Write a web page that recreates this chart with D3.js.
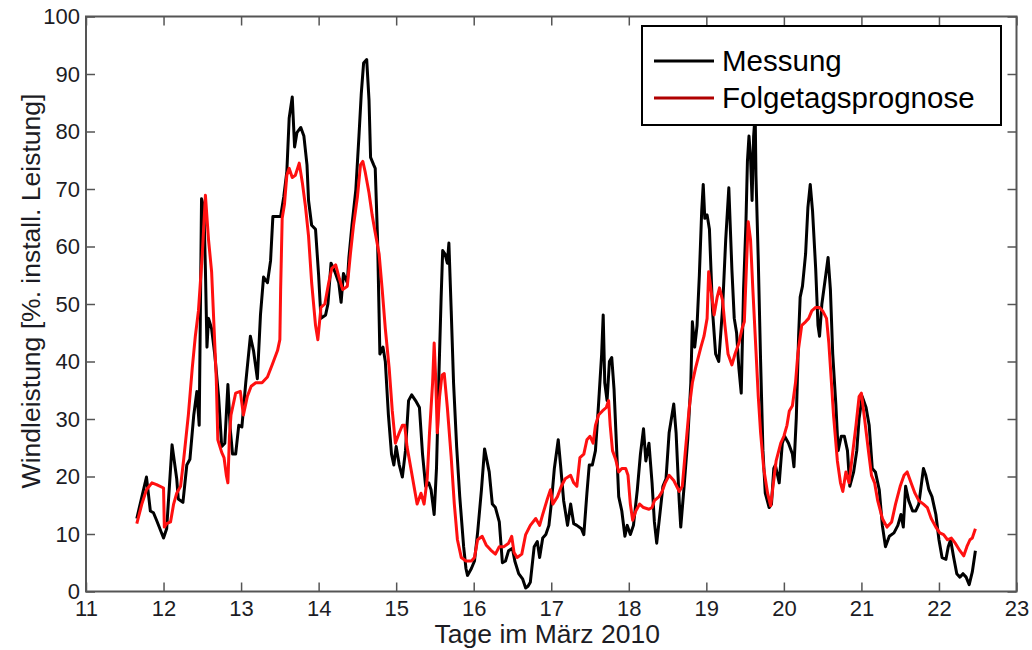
<!DOCTYPE html>
<html>
<head>
<meta charset="utf-8">
<script src="https://cdn.jsdelivr.net/npm/d3@7"></script>
<style>
  html, body { margin: 0; padding: 0; background: #fff; }
  svg { display: block; font-family: "Liberation Sans", Arial, sans-serif; }
</style>
</head>
<body>
<svg id="chart" width="1032" height="650"></svg>
<script>
// ---- Data ----
const messTage = [11.655,11.78,11.83,11.87,11.91,12.0,12.04,12.11,12.17,12.19,12.25,12.30,12.34,12.39,12.43,12.46,12.49,12.52,12.54,12.56,12.58,12.62,12.66,12.71,12.75,12.79,12.83,12.86,12.89,12.93,12.97,13.01,13.06,13.12,13.16,13.21,13.25,13.29,13.34,13.38,13.41,13.47,13.51,13.55,13.59,13.62,13.66,13.69,13.72,13.77,13.81,13.85,13.87,13.91,13.96,14.0,14.03,14.09,14.12,14.16,14.21,14.26,14.29,14.32,14.37,14.39,14.43,14.48,14.52,14.55,14.58,14.62,14.65,14.67,14.71,14.73,14.76,14.79,14.83,14.86,14.90,14.94,14.97,15.0,15.04,15.08,15.12,15.16,15.20,15.25,15.30,15.34,15.38,15.42,15.45,15.49,15.52,15.55,15.58,15.60,15.63,15.66,15.68,15.71,15.74,15.78,15.82,15.87,15.90,15.92,15.97,16.01,16.05,16.10,16.14,16.20,16.24,16.28,16.33,16.37,16.41,16.45,16.50,16.53,16.58,16.63,16.67,16.70,16.73,16.78,16.82,16.85,16.89,16.93,16.97,17.0,17.04,17.09,17.12,17.16,17.21,17.25,17.29,17.33,17.39,17.42,17.46,17.49,17.53,17.57,17.61,17.65,17.67,17.69,17.72,17.75,17.78,17.81,17.84,17.87,17.91,17.95,17.98,18.02,18.06,18.11,18.15,18.19,18.22,18.26,18.30,18.33,18.36,18.39,18.44,18.48,18.52,18.58,18.61,18.65,18.67,18.71,18.76,18.80,18.82,18.85,18.88,18.91,18.94,18.96,18.98,19.01,19.04,19.08,19.12,19.16,19.21,19.25,19.29,19.33,19.36,19.39,19.42,19.45,19.48,19.51,19.53,19.55,19.57,19.59,19.61,19.63,19.64,19.67,19.70,19.73,19.76,19.81,19.84,19.87,19.89,19.94,19.98,20.01,20.06,20.11,20.13,20.16,20.19,20.21,20.24,20.28,20.31,20.34,20.37,20.41,20.44,20.46,20.49,20.54,20.57,20.60,20.63,20.67,20.70,20.74,20.78,20.82,20.85,20.90,20.94,20.97,21.01,21.06,21.10,21.14,21.18,21.23,21.27,21.31,21.36,21.42,21.47,21.51,21.54,21.57,21.61,21.66,21.70,21.74,21.77,21.80,21.83,21.87,21.91,21.96,22.0,22.04,22.09,22.12,22.15,22.19,22.23,22.27,22.31,22.35,22.39,22.43,22.47];
const messWerte = [12.7,19.9,14,13.7,12.4,9.3,10.9,25.5,19.6,16.1,15.5,22,23,30.7,34.8,28.9,68.3,66.8,56,42.5,47.5,45.7,41.3,33.9,25.2,25.8,36,28.3,23.9,23.9,28.9,28.6,36.3,44.4,41.9,37,48.1,54.7,53.7,57.5,65.2,65.2,65.2,68.6,73,82.3,86,77.3,79.8,80.7,79.2,74.2,68,63.7,63,55,47.5,48.1,50,57.1,55.6,53.7,50.3,55.3,53.7,58,63.7,69.9,79.2,86.6,91.9,92.5,85.4,75.5,74.2,73.6,61.2,41.3,42.5,40,30.7,23.9,22,25.2,22,19.9,24.5,33.2,34.2,33.2,32,23.9,18.3,18.9,17.7,13.4,21.4,37,51.2,59.3,58.7,57.1,60.6,48.8,36.3,25.2,16.5,7.8,4,2.8,4,5.3,10.2,17.7,24.8,20.8,15.2,14.6,12.1,5,5.3,7.1,7.5,5.3,3.1,2.2,0.6,0.9,1.6,7.8,8.7,5.9,9.3,9.9,11.5,15.2,21.4,26.4,22,15.8,11.5,15.2,11.8,11.5,10.9,9.9,17.1,22,22,24.5,32.6,41.3,48.1,36.3,33.2,40,40.7,35.1,25.8,16.5,14,9.6,11.5,9.9,11.5,17.7,23.9,28.3,22.7,25.8,18.9,12.1,8.4,12.1,18.3,19.6,27.6,32.6,27.6,15.8,11.2,17.7,26.4,36.3,46.9,42.5,46.2,55,66.1,70.8,64.9,65.5,63,48.8,41.3,40,49.4,61.2,70.2,55.9,47.5,45,38.8,34.5,52.5,63.7,74.8,79.2,75.5,68,79.2,83,72.4,57.5,40,24.5,17.1,14.6,15.2,21.4,22,18.9,25.8,27,25.8,23.9,21.7,30.1,44.4,51.2,53.1,58.7,66.8,70.8,66.1,56.2,46.3,44.4,50,55,58.1,52.5,41.3,32.6,24.5,27,27,24.5,18.3,20.8,24.5,30.1,33.9,32,28.9,21.4,20.8,17.7,11.5,7.8,9.6,10.2,11.5,13.4,11.2,18.3,15.8,14,14,15.2,18.3,21.4,20.2,17.7,16.5,13.4,9,5.9,5.6,7.8,9,5.9,3.1,2.5,3.1,2.5,1.2,3.4,7.1];

const progTage = [11.655,11.72,11.78,11.85,11.91,12.0,12.01,12.04,12.09,12.13,12.17,12.22,12.26,12.32,12.37,12.41,12.45,12.50,12.54,12.58,12.62,12.65,12.68,12.70,12.75,12.78,12.81,12.83,12.85,12.87,12.93,12.99,13.03,13.08,13.13,13.19,13.27,13.34,13.40,13.47,13.50,13.51,13.53,13.56,13.59,13.62,13.66,13.70,13.75,13.79,13.83,13.87,13.91,13.96,13.99,14.03,14.08,14.13,14.17,14.22,14.27,14.31,14.37,14.41,14.45,14.50,14.54,14.57,14.60,14.65,14.69,14.73,14.78,14.82,14.86,14.91,14.95,14.99,15.04,15.08,15.11,15.14,15.19,15.23,15.27,15.32,15.36,15.40,15.43,15.47,15.49,15.51,15.53,15.56,15.59,15.62,15.66,15.71,15.75,15.79,15.84,15.90,15.97,16.01,16.05,16.11,16.16,16.22,16.28,16.33,16.39,16.45,16.49,16.52,16.56,16.62,16.67,16.73,16.80,16.85,16.89,16.95,16.99,17.02,17.08,17.13,17.18,17.25,17.29,17.33,17.37,17.42,17.46,17.50,17.54,17.57,17.61,17.66,17.71,17.74,17.76,17.79,17.83,17.87,17.91,17.96,17.99,18.02,18.05,18.09,18.14,18.19,18.26,18.30,18.33,18.39,18.43,18.47,18.52,18.58,18.65,18.69,18.73,18.78,18.82,18.86,18.93,18.97,19.01,19.03,19.06,19.10,19.14,19.17,19.21,19.24,19.28,19.33,19.37,19.42,19.46,19.49,19.52,19.54,19.57,19.60,19.64,19.67,19.70,19.74,19.79,19.83,19.86,19.90,19.96,20.0,20.04,20.07,20.11,20.15,20.18,20.23,20.28,20.32,20.36,20.41,20.46,20.50,20.55,20.58,20.61,20.64,20.69,20.73,20.76,20.80,20.84,20.88,20.93,20.97,21.0,21.04,21.09,21.13,21.17,21.21,21.27,21.33,21.39,21.44,21.50,21.55,21.59,21.64,21.69,21.74,21.80,21.85,21.90,21.96,22.01,22.06,22.11,22.16,22.21,22.27,22.32,22.36,22.40,22.43,22.47];
const progWerte = [11.8,15.2,17.7,18.9,18.6,18,11.2,11.8,12.1,15.2,17.1,18.3,23,30.7,38.8,44.4,48.8,58.7,68.9,61.2,55.6,46.3,37,26.4,24.2,23.3,20.2,18.9,27,30.7,34.5,34.8,30.7,33.9,35.7,36.3,36.3,37.3,39.4,41.9,43.8,52.5,64.9,67.4,72.4,73.6,72,72.4,74.5,71.1,67,61.8,53.7,46.3,43.8,49.4,50,53.7,56.2,56.8,54.3,52.5,53.1,58.7,63.7,68.6,74.2,74.8,73,69.3,65.5,62.4,58.7,52.5,45.7,38.8,31.4,25.8,27.6,28.9,28.9,25.2,21.4,18.3,15.2,17.1,15.2,19.6,27.6,36.3,43.2,37,27.6,33.9,37.6,37.9,32,23.3,15.2,9,5.9,5.3,5.3,5.9,9,9.6,8.1,7.2,6.5,7.8,7.8,8.4,9.6,6.8,5.9,6.5,9.9,11.5,12.7,11.5,13.4,16.1,17.7,15.2,16.5,18.3,19.6,20.2,18.9,18.3,23.3,23.9,26.4,27,25.8,28.9,30.7,31.4,32,33.2,28.9,24.5,23,20.8,21.4,21.4,20.2,15.2,12.4,14,15.2,14.6,14.3,14.6,15.8,16.5,17.4,18.9,20.2,19.3,17.4,18.3,24.5,32,36.3,38.8,42.5,44.4,47.5,55.6,52.5,48.1,51.2,52.8,50.6,46.3,41.3,39.4,41.3,43.2,45.7,46.9,57.5,64.3,61.2,52.5,41.9,33.9,27.6,21.4,17.1,14.9,18.3,22.7,25.8,27,28.9,31.4,32.3,36.3,41.3,46.3,46.9,47.5,48.8,49.4,49.4,48.8,47.5,43.2,37,30.7,22.7,18.9,17.4,20.8,18.9,23.3,28.9,33.9,34.5,30.1,24.5,20.2,18.9,15.8,12.7,11.2,12.1,15.2,18.3,20.2,20.8,18.9,17.1,15.8,15.2,14.6,12.7,11.2,10.2,9.9,9,9.3,8.4,7.1,6.2,7.8,9,9.3,10.9];

const xTicks = [11,12,13,14,15,16,17,18,19,20,21,22,23];
const yTicks = [0,10,20,30,40,50,60,70,80,90,100];
const serienNamen = ["Messung", "Folgetagsprognose"];
const xTitel = "Tage im März 2010";
const yTitel = "Windleistung [%. install. Leistung]";

// ---- Layout ----
const L = 86, R = 1016.5, T = 16.5, B = 591.5;
const svg = d3.select("#chart");
const x = d3.scaleLinear().domain([11, 23]).range([L, R]);
const y = d3.scaleLinear().domain([0, 100]).range([B, T]);

const axisColor = "#555";
const textColor = "#1c1c24";
const fs = 22;

function styleAxis(g) {
  g.select(".domain").remove();
  g.selectAll(".tick line").attr("stroke", axisColor).attr("stroke-width", 1.5);
  g.selectAll(".tick text").attr("fill", textColor).style("font-size", fs + "px")
    .style("font-family", '"Liberation Sans", Arial, sans-serif');
}

svg.append("g").attr("transform", `translate(0,${B})`)
  .call(d3.axisBottom(x).tickValues(xTicks).tickFormat(d3.format("d")).tickSize(-9).tickPadding(9))
  .call(styleAxis);
svg.append("g").attr("transform", `translate(0,${T})`)
  .call(d3.axisTop(x).tickValues(xTicks).tickFormat("").tickSize(-9))
  .call(styleAxis);
svg.append("g").attr("transform", `translate(${L},0)`)
  .call(d3.axisLeft(y).tickValues(yTicks).tickFormat(d3.format("d")).tickSize(-9).tickPadding(6))
  .call(styleAxis);
svg.append("g").attr("transform", `translate(${R},0)`)
  .call(d3.axisRight(y).tickValues(yTicks).tickFormat("").tickSize(-9))
  .call(styleAxis);

svg.append("rect").attr("x", L).attr("y", T).attr("width", R - L).attr("height", B - T)
  .attr("fill", "none").attr("stroke", axisColor).attr("stroke-width", 2);

// ---- Lines ----
const line = d3.line().x(d => x(d[0])).y(d => y(d[1]));
const mess = messTage.map((t, i) => [t, messWerte[i]]);
const prog = progTage.map((t, i) => [t, progWerte[i]]);

svg.append("path").datum(mess).attr("d", line)
  .attr("fill", "none").attr("stroke", "#000").attr("stroke-width", 3).attr("stroke-linejoin", "round");
svg.append("path").datum(prog).attr("d", line)
  .attr("fill", "none").attr("stroke", "#ff1010").attr("stroke-width", 3).attr("stroke-linejoin", "round");

// ---- Axis titles ----
svg.append("text").attr("x", (L + R) / 2 - 4).attr("y", 643)
  .attr("text-anchor", "middle").attr("fill", textColor).style("font-size", "26.5px").text(xTitel);
svg.append("text").attr("transform", `translate(40,${(T + B) / 2 - 13}) rotate(-90)`)
  .attr("text-anchor", "middle").attr("fill", textColor).style("font-size", "26.5px").text(yTitel);

// ---- Legend ----
const lg = svg.append("g");
lg.append("rect").attr("x", 642).attr("y", 26).attr("width", 359).attr("height", 99)
  .attr("fill", "#fff").attr("stroke", "#000").attr("stroke-width", 2);
const legendFarben = ["#000", "#b00000"];
const legendY = [61, 98];
serienNamen.forEach((name, i) => {
  lg.append("line").attr("x1", 654).attr("x2", 714).attr("y1", legendY[i]).attr("y2", legendY[i])
    .attr("stroke", legendFarben[i]).attr("stroke-width", 3);
  lg.append("text").attr("x", 722).attr("y", legendY[i] + 10)
    .attr("fill", "#000").style("font-size", "29.5px").text(name);
});
</script>
</body>
</html>
